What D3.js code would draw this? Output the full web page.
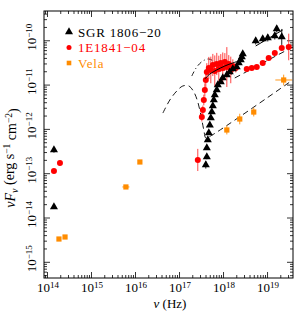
<!DOCTYPE html>
<html>
<head>
<meta charset="utf-8">
<script src="https://cdn.jsdelivr.net/npm/d3@7"></script>
<style>
  body { margin: 0; background: #fff; }
  text { font-family: "Liberation Serif", "DejaVu Serif", serif; }
</style>
</head>
<body>
<div id="chart"></div>
<script>
// SGR 1806-20: [nu (Hz), nuFnu, error in dex]
const sgrPoints = [
  [1.44e14, 3.34e-13, 0.06], [1.44e14, 1.73e-14, 0.03],
  [4.06e17, 1.53e-13, 0.08], [4.28e17, 2.32e-13, 0.05], [4.28e17, 3.71e-13, 0.04],
  [4.51e17, 5.61e-13, 0.04], [4.75e17, 8.07e-13, 0.03], [5.01e17, 1.22e-12, 0.03],
  [5.28e17, 1.76e-12, 0.03], [5.56e17, 2.41e-12, 0.03], [5.86e17, 3.29e-12, 0.02],
  [6.17e17, 4.49e-12, 0.02], [6.50e17, 5.82e-12, 0.02], [7.21e17, 7.55e-12, 0.02],
  [7.60e17, 9.79e-12, 0.02], [8.89e17, 1.15e-11, 0.02], [9.86e17, 1.41e-11, 0.02],
  [1.22e18, 1.65e-11, 0.02], [1.42e18, 1.92e-11, 0.02], [1.67e18, 2.25e-11, 0.02],
  [2.05e18, 2.49e-11, 0.02], [2.28e18, 3.08e-11, 0.02], [2.53e18, 3.59e-11, 0.02],
  [2.67e18, 4.20e-11, 0.02], [2.81e18, 4.91e-11, 0.02],
  [5.53e18, 9.64e-11, 0.08], [7.98e18, 1.07e-10, 0.07], [1.04e19, 1.13e-10, 0.08],
  [1.50e19, 1.25e-10, 0.08], [1.66e19, 1.80e-10, 0.08], [2.16e19, 1.19e-10, 0.18]
];

// 1E1841-045: [nu (Hz), nuFnu, error in dex]
const axpPoints = [
  [1.44e14, 1.12e-13, 0.02], [1.97e14, 1.70e-13, 0.06],
  [2.67e17, 1.99e-13, 0.25],
  [3.30e17, 1.85e-12, 0.10], [3.48e17, 2.67e-12, 0.10], [3.66e17, 4.49e-12, 0.12],
  [3.86e17, 7.55e-12, 0.15], [4.06e17, 1.27e-11, 0.18], [4.28e17, 1.92e-11, 0.20],
  [4.75e17, 2.37e-11, 0.25], [5.28e17, 2.14e-11, 0.30], [5.86e17, 2.77e-11, 0.25],
  [6.50e17, 2.03e-11, 0.35], [7.21e17, 2.92e-11, 0.25], [8.02e17, 2.25e-11, 0.30],
  [8.89e17, 3.08e-11, 0.20], [9.86e17, 2.37e-11, 0.35], [1.10e18, 3.24e-11, 0.20],
  [1.22e18, 2.49e-11, 0.45], [1.35e18, 2.92e-11, 0.20], [1.50e18, 2.14e-11, 0.30],
  [1.67e18, 2.63e-11, 0.15], [1.95e18, 2.37e-11, 0.10],
  [3.46e18, 2.25e-11, 0.03], [4.50e18, 2.37e-11, 0.03], [5.84e18, 2.49e-11, 0.03],
  [7.98e18, 3.08e-11, 0.03], [1.09e19, 3.98e-11, 0.03], [1.50e19, 5.17e-11, 0.03],
  [2.16e19, 6.70e-11, 0.03], [3.11e19, 7.06e-11, 0.30]
];

// Vela: [nu (Hz), nuFnu, error in dex, x error in dex]
const velaPoints = [
  [1.87e14, 3.27e-15, 0.02, 0.01], [2.57e14, 3.63e-15, 0.02, 0.01],
  [6.21e15, 4.89e-14, 0.04, 0.08], [1.29e16, 1.79e-13, 0.02, 0.02],
  [1.22e18, 9.44e-13, 0.10, 0.05], [2.40e18, 1.67e-12, 0.12, 0.05],
  [4.99e18, 2.40e-12, 0.10, 0.05], [2.39e19, 1.27e-11, 0.12, 0.19]
];

// model curves: [nu, nuFnu]
const velaModel = [
  [4.30e16, 2.28e-12], [6.19e16, 4.49e-12], [8.92e16, 7.18e-12], [1.22e17, 9.30e-12],
  [1.67e17, 9.30e-12], [2.17e17, 6.81e-12], [2.67e17, 4.05e-12], [3.13e17, 2.06e-12],
  [3.66e17, 9.44e-13], [4.06e17, 6.24e-13], [4.75e17, 6.56e-13], [3.83e19, 1.27e-11]
];
const axpModelDotDash = [
  [1.95e17, 1.56e-11], [2.53e17, 2.49e-11], [3.48e17, 3.41e-11], [4.75e17, 3.78e-11],
  [6.50e17, 3.24e-11], [1.10e18, 2.14e-11], [1.85e18, 1.56e-11]
];
const axpModelDash = [[1.85e18, 1.41e-11], [3.83e19, 7.06e-11]];
const sgrModelSoft = [
  [3.86e17, 1.34e-11], [5.01e17, 1.73e-11], [7.21e17, 2.14e-11],
  [1.10e18, 2.63e-11], [1.67e18, 3.08e-11], [2.28e18, 3.41e-11]
];
const sgrModelHard = [[5.53e18, 7.43e-11], [2.27e19, 1.71e-10]];

const xDecades = [14, 15, 16, 17, 18, 19];
const yDecades = [-15, -14, -13, -12, -11, -10];
const legendItems = [
  { label: "SGR 1806\u221220", color: "#000000", shape: "triangle" },
  { label: "1E1841\u221204", color: "#ff0000", shape: "circle" },
  { label: "Vela", color: "#ff8c00", shape: "square" }
];

const W = 299, H = 313;
const frame = { left: 44, right: 293, top: 11, bottom: 278 };

const svg = d3.select("#chart").append("svg")
  .attr("width", W).attr("height", H);

const x = d3.scaleLog().domain([8.55e13, 3.89e19]).range([frame.left, frame.right]);
const y = d3.scaleLog().domain([4.31e-16, 4.58e-10]).range([frame.bottom, frame.top]);

function minorTicks(scale) {
  const [a, b] = scale.domain().map(Math.log10);
  const out = [];
  for (let e = Math.floor(a); e <= Math.ceil(b); e++) {
    for (let m = 2; m <= 9; m++) {
      const v = m * Math.pow(10, e);
      if (v >= scale.domain()[0] && v <= scale.domain()[1]) out.push(v);
    }
  }
  return out;
}

function supLabel(textSel, exp) {
  textSel.text(null);
  textSel.append("tspan").text("10");
  textSel.append("tspan").attr("dy", "-0.45em").attr("font-size", "9px")
    .text(String(exp).replace("-", "\u2212"));
}

const axes = svg.append("g").attr("class", "axes");
const xMaj = xDecades.map(e => Math.pow(10, e));
const yMaj = yDecades.map(e => Math.pow(10, e));

// ticks on all four sides, pointing inward
function tickAxis(gen, scale, vals, size, transform) {
  axes.append("g").attr("transform", transform)
    .call(gen(scale).tickValues(vals).tickSize(size).tickFormat(""))
    .call(g => g.select(".domain").remove())
    .call(g => g.selectAll("line").attr("stroke", "#000").attr("stroke-width", 0.8));
}
tickAxis(d3.axisBottom, x, xMaj, -6, `translate(0,${frame.bottom})`);
tickAxis(d3.axisBottom, x, minorTicks(x), -3, `translate(0,${frame.bottom})`);
tickAxis(d3.axisTop, x, xMaj, -6, `translate(0,${frame.top})`);
tickAxis(d3.axisTop, x, minorTicks(x), -3, `translate(0,${frame.top})`);
tickAxis(d3.axisLeft, y, yMaj, -6, `translate(${frame.left},0)`);
tickAxis(d3.axisLeft, y, minorTicks(y), -3, `translate(${frame.left},0)`);
tickAxis(d3.axisRight, y, yMaj, -6, `translate(${frame.right},0)`);
tickAxis(d3.axisRight, y, minorTicks(y), -3, `translate(${frame.right},0)`);

axes.append("rect")
  .attr("x", frame.left).attr("y", frame.top)
  .attr("width", frame.right - frame.left).attr("height", frame.bottom - frame.top)
  .attr("fill", "none").attr("stroke", "#000").attr("stroke-width", 1);

// tick labels
axes.append("g").selectAll("text")
  .data(xDecades)
  .join("text")
    .attr("x", d => x(Math.pow(10, d)) + 1)
    .attr("y", 292)
    .attr("text-anchor", "middle")
    .attr("font-size", "13px")
    .each(function(d) { supLabel(d3.select(this), d); });

axes.append("g").selectAll("text")
  .data(yDecades)
  .join("text")
    .attr("transform", d => `translate(36,${y(Math.pow(10, d)) - 3}) rotate(-90)`)
    .attr("text-anchor", "middle")
    .attr("font-size", "13px")
    .each(function(d) { supLabel(d3.select(this), d); });

// axis titles
const xt = svg.append("text")
  .attr("x", 170).attr("y", 308)
  .attr("text-anchor", "middle").attr("font-size", "13px");
xt.append("tspan").attr("font-style", "italic").text("\u03bd");
xt.append("tspan").text(" (Hz)");

const yt = svg.append("text")
  .attr("transform", "translate(15,158) rotate(-90)")
  .attr("text-anchor", "middle").attr("font-size", "14px");
yt.append("tspan").attr("font-style", "italic").text("\u03bdF");
yt.append("tspan").attr("font-style", "italic").attr("dy", "0.3em").attr("font-size", "10px").text("\u03bd");
yt.append("tspan").attr("dy", "-0.3em").text(" (erg s");
yt.append("tspan").attr("dy", "-0.45em").attr("font-size", "9.5px").text("\u22121");
yt.append("tspan").attr("dy", "0.45em").text(" cm");
yt.append("tspan").attr("dy", "-0.45em").attr("font-size", "9.5px").text("\u22122");
yt.append("tspan").attr("dy", "0.45em").text(")");

const plot = svg.append("g");
plot.append("clipPath").attr("id", "clip")
  .append("rect")
  .attr("x", frame.left).attr("y", frame.top)
  .attr("width", frame.right - frame.left).attr("height", frame.bottom - frame.top);
const inner = plot.append("g").attr("clip-path", "url(#clip)");

// model curves
const line = d3.line().x(d => x(d[0])).y(d => y(d[1])).curve(d3.curveCatmullRom);
inner.append("path").datum(velaModel).attr("d", line)
  .attr("fill", "none").attr("stroke", "#000").attr("stroke-width", 0.9)
  .attr("stroke-dasharray", "6,4");
inner.append("path").datum(axpModelDotDash).attr("d", line)
  .attr("fill", "none").attr("stroke", "#000").attr("stroke-width", 0.9)
  .attr("stroke-dasharray", "5,3,1,3");
inner.append("path").datum(axpModelDash).attr("d", line)
  .attr("fill", "none").attr("stroke", "#000").attr("stroke-width", 0.9)
  .attr("stroke-dasharray", "6,4");

// error bars + markers
function errBars(data, color) {
  const g = inner.append("g").attr("stroke", color).attr("stroke-width", 0.9);
  g.selectAll("line.ey").data(data).join("line")
    .attr("x1", d => x(d[0])).attr("x2", d => x(d[0]))
    .attr("y1", d => y(d[1] * Math.pow(10, d[2])))
    .attr("y2", d => y(d[1] / Math.pow(10, d[2])));
  g.selectAll("line.ex").data(data.filter(d => d[3])).join("line")
    .attr("y1", d => y(d[1])).attr("y2", d => y(d[1]))
    .attr("x1", d => x(d[0] / Math.pow(10, d[3])))
    .attr("x2", d => x(d[0] * Math.pow(10, d[3])));
}
errBars(axpPoints, "#ff3030");
errBars(sgrPoints, "#000");
errBars(velaPoints, "#ff8c00");

const tri = d3.symbol().type(d3.symbolTriangle).size(28);
inner.append("g").selectAll("circle")
  .data(axpPoints).join("circle")
    .attr("cx", d => x(d[0])).attr("cy", d => y(d[1]))
    .attr("r", 3).attr("fill", "#ff0000");
inner.append("g").selectAll("path")
  .data(sgrPoints).join("path")
    .attr("transform", d => `translate(${x(d[0])},${y(d[1])})`)
    .attr("d", tri).attr("fill", "#000");
inner.append("g").selectAll("rect")
  .data(velaPoints).join("rect")
    .attr("x", d => x(d[0]) - 2.6).attr("y", d => y(d[1]) - 2.6)
    .attr("width", 5.2).attr("height", 5.2).attr("fill", "#ff8c00");

// solid fits on top
inner.append("path").datum(sgrModelSoft).attr("d", line)
  .attr("fill", "none").attr("stroke", "#000").attr("stroke-width", 1);
inner.append("path").datum(sgrModelHard).attr("d", line)
  .attr("fill", "none").attr("stroke", "#000").attr("stroke-width", 1);

// legend
const leg = svg.append("g").attr("transform", "translate(69,32)");
legendItems.forEach((it, i) => {
  const row = leg.append("g").attr("transform", `translate(0,${i * 15.5})`);
  if (it.shape === "triangle") row.append("path").attr("d", tri).attr("fill", it.color);
  if (it.shape === "circle") row.append("circle").attr("r", 2.5).attr("fill", it.color);
  if (it.shape === "square") row.append("rect").attr("x", -2.3).attr("y", -2.3)
    .attr("width", 4.6).attr("height", 4.6).attr("fill", it.color);
  row.append("text").attr("x", 9).attr("y", 4.5)
    .attr("font-size", "13px").attr("letter-spacing", "0.8px")
    .attr("fill", it.color).text(it.label);
});
</script>
</body>
</html>
